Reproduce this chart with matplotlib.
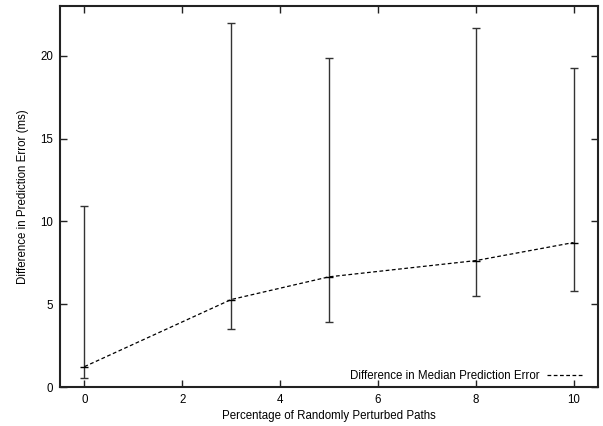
import matplotlib
matplotlib.use("Agg")
import matplotlib.pyplot as plt
from matplotlib.lines import Line2D
import numpy as np

plt.rcParams['font.family'] = ['Liberation Sans', 'DejaVu Sans']
plt.rcParams['font.size'] = 8.3

# perturbed paths (%) and prediction error difference (ms)
pct = [0, 3, 5, 8, 10]
median_diff = [1.23, 5.28, 6.65, 7.63, 8.72]
low = [0.53, 3.52, 3.95, 5.50, 5.82]
high = [10.90, 21.98, 19.88, 21.67, 19.26]

med = np.array(median_diff)
yerr = [med - np.array(low), np.array(high) - med]

fig = plt.figure(figsize=(6.03, 4.26), dpi=100)
ax = fig.add_axes([60 / 603, 39 / 426, 538 / 603, 381 / 426])

ax.errorbar(pct, median_diff, yerr=yerr, color='black', ecolor='#333333',
            elinewidth=1.0, capsize=3, capthick=1.0, linestyle=(0, (3, 2)),
            linewidth=0.9, marker='_', markersize=6, markeredgewidth=1.0,
            label='Difference in Median Prediction Error')

ax.set_xlim(-0.5, 10.5)
ax.set_ylim(0, 23)
ax.set_xticks([0, 2, 4, 6, 8, 10])
ax.set_yticks([0, 5, 10, 15, 20])
ax.tick_params(direction='in', length=5, width=1, top=True, right=True,
               colors='#222222', labelcolor='black', pad=5)
for s in ax.spines.values():
    s.set_linewidth(1.5)
    s.set_color('#222222')

ax.set_xlabel('Percentage of Randomly Perturbed Paths', labelpad=3)
ax.set_ylabel('Difference in Prediction Error (ms)', labelpad=8)

# key sits at the bottom right, sample after the text
proxy = Line2D([], [], color='black', linestyle=(0, (3, 2)), linewidth=0.9)
ax.legend([proxy], ['Difference in Median Prediction Error'], loc='lower right',
          bbox_to_anchor=(1 - 6 / 538, -3 / 381), frameon=False,
          markerfirst=False, handlelength=3.2, handletextpad=0.6,
          borderaxespad=0.3)

fig.savefig('out.png', dpi=100)
